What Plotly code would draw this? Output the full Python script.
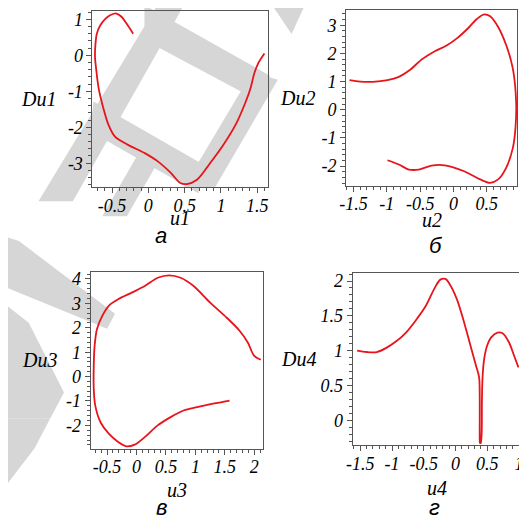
import plotly.graph_objects as go

# ---------------- data ----------------
u1 = [-0.21, -0.30, -0.37, -0.44, -0.52, -0.59, -0.66, -0.71, -0.73, -0.735, -0.72, -0.685,
      -0.62, -0.55, -0.46, -0.28, -0.05, 0.13, 0.31, 0.44, 0.53, 0.67, 0.85, 1.03, 1.21,
      1.34, 1.41, 1.46, 1.52, 1.60]
Du1 = [0.60, 0.88, 1.07, 1.16, 1.12, 1.02, 0.84, 0.60, 0.28, -0.05, -0.37, -0.92,
       -1.47, -1.93, -2.26, -2.49, -2.72, -2.95, -3.27, -3.55, -3.58, -3.46, -3.00, -2.50, -1.90,
       -1.30, -0.90, -0.50, -0.20, 0.05]

u2 = [-1.56, -1.40, -1.21, -0.99, -0.82, -0.65, -0.48, -0.28, -0.11, 0.06, 0.23, 0.35, 0.45,
      0.55, 0.67, 0.79, 0.89, 0.94, 0.93, 0.89, 0.79, 0.67, 0.55, 0.40, 0.16, -0.13, -0.33,
      -0.52, -0.67, -0.82, -0.99]
Du2 = [1.05, 1.00, 0.99, 1.05, 1.17, 1.42, 1.78, 2.08, 2.27, 2.55, 2.92, 3.22, 3.38,
       3.32, 2.94, 2.30, 1.47, 0.29, -0.65, -1.36, -2.06, -2.47, -2.59, -2.47, -2.18, -1.97, -1.98,
       -2.12, -2.12, -1.94, -1.79]

u3 = [2.11, 1.995, 1.89, 1.75, 1.53, 1.25, 0.97, 0.75, 0.555, 0.36, 0.14, -0.08, -0.31, -0.47,
      -0.58, -0.67, -0.71, -0.725, -0.725, -0.70, -0.61, -0.47, -0.31, -0.17, -0.03, 0.14, 0.36,
      0.58, 0.80, 1.03, 1.30, 1.58]
Du3 = [0.69, 0.86, 1.40, 1.88, 2.42, 3.03, 3.71, 4.05, 4.15, 4.05, 3.71, 3.44, 3.17, 2.90,
       2.49, 1.95, 1.27, 0.45, -0.50, -1.18, -1.87, -2.34, -2.68, -2.86, -2.79, -2.48, -2.00,
       -1.66, -1.39, -1.25, -1.11, -0.98]

u4 = [-1.55, -1.40, -1.24, -1.09, -0.94, -0.78, -0.63, -0.47, -0.34, -0.24, -0.16, -0.09, 0.02,
      0.12, 0.22, 0.32, 0.37, 0.38, 0.38, 0.385, 0.395, 0.41, 0.415, 0.425, 0.45, 0.50, 0.56,
      0.66, 0.74, 0.84, 0.92, 0.99]
Du4 = [1.00, 0.98, 0.98, 1.04, 1.13, 1.26, 1.43, 1.64, 1.88, 2.02, 2.03, 1.95, 1.74,
       1.45, 1.12, 0.79, 0.62, 0.30, -0.20, -0.33, -0.33, -0.20, 0.30, 0.62, 0.88, 1.08, 1.19,
       1.26, 1.25, 1.12, 0.93, 0.76]

x_ticks = [
    [-0.5, 0, 0.5, 1, 1.5],
    [-1.5, -1, -0.5, 0, 0.5],
    [-0.5, 0, 0.5, 1, 1.5, 2],
    [-1.5, -1, -0.5, 0, 0.5, 1],
]
x_ticktext = [
    ["-0.5", "0", "0.5", "1", "1.5"],
    ["-1.5", "-1", "-0.5", "0", "0.5"],
    ["-0.5", "0", "0.5", "1", "1.5", "2"],
    ["-1.5", "-1", "-0.5", "0", "0.5", "1"],
]
y_ticks = [
    [-3, -2, -1, 0, 1],
    [-2, -1, 0, 1, 2, 3],
    [-3, -2, -1, 0, 1, 2, 3, 4],
    [0, 0.5, 1, 1.5, 2],
]
y_ticktext = [
    ["-3", "-2", "-1", "0", "1"],
    ["-2", "-1", "0", "1", "2", "3"],
    ["-3", "-2", "-1", "0", "1", "2", "3", "4"],
    ["0", "0.5", "1", "1.5", "2"],
]
x_titles = ["u1", "u2", "u3", "u4"]
y_titles = ["Du1", "Du2", "Du3", "Du4"]
captions = ["а", "б", "в", "г"]

# ---------------- layout geometry (pixels of the 527x519 page) ----------------
OFF = 8                       # page body margin of the browser
W, H = 527 - OFF, 519 - OFF   # figure size so that it ends at the window edge
boxes = [  # left, right, top, bottom
    (87, 265.7, 9, 186),
    (345.7, 520, 8.3, 184.3),
    (85, 261, 270.7, 448.3),
    (352.3, 523.3, 271.7, 445),
]
x_ranges = [[-0.77, 1.645], [-1.61, 0.955], [-0.78, 2.15], [-1.62, 1.02]]
y_ranges = [[-3.67, 1.23], [-2.69, 3.53], [-2.95, 4.30], [-0.36, 2.12]]
x_minor = [0.1, 0.1, 0.1, 0.1]
y_minor = [0.2, 0.2, 0.2, 0.1]
caption_pos = [(157, 234), (437, 244), (157, 507), (436, 507)]
ytitle_x = [32, 296, 33, 297]
xtitle_y = [217, 219, 490, 488]

# light-grey background watermark (page pixels)
watermark = [
    [(155, 0), (182, 0), (67, 200), (32, 200)],
    [(140, 3), (268, 74), (258, 100), (140, 38)],
    [(180, 186), (212, 186), (276, 78), (250, 70)],
    [(88, 100), (200, 163), (195, 192), (85, 130)],
    [(135, 150), (160, 150), (122, 215), (97, 215)],
    [(268, 0), (305, 0), (290, 32)],
    [(0, 236), (12, 240), (110, 313), (102, 328), (0, 287)],
    [(0, 305), (22, 322), (58, 392), (44, 418), (0, 418)],
    [(0, 418), (44, 418), (28, 448), (0, 484)],
]


def px(x):
    return (x - OFF) / W


def py(y):
    return 1 - (y - OFF) / H


series = [(u1, Du1), (u2, Du2), (u3, Du3), (u4, Du4)]

fig = go.Figure()
for poly in watermark:
    path = "M " + " L ".join(f"{px(a):.4f},{py(b):.4f}" for a, b in poly) + " Z"
    fig.add_shape(type="path", path=path, xref="paper", yref="paper",
                  fillcolor="#d6d6d6", line=dict(width=0), layer="below")

tick_font = dict(family="Liberation Serif", size=18, color="black", style="italic")
title_font = dict(family="Liberation Serif", size=20, color="black", style="italic")

for i, (xs, ys) in enumerate(series):
    n = "" if i == 0 else str(i + 1)
    fig.add_trace(go.Scatter(
        x=xs, y=ys, mode="lines", xaxis="x" + n, yaxis="y" + n,
        line=dict(color="#e8141c", width=1.8, shape="spline", smoothing=0.9),
        showlegend=False, hoverinfo="skip"))
    l, r, t, b = boxes[i]
    common = dict(showline=True, linecolor="#555555", linewidth=1, mirror=True,
                  showgrid=False, zeroline=False, ticks="outside", ticklen=5,
                  tickcolor="#555555", tickfont=tick_font, tickmode="array")
    fig.update_layout(**{
        "xaxis" + n: dict(common, domain=[px(l), px(r)], range=x_ranges[i],
                          anchor="y" + n, tickvals=x_ticks[i], ticktext=x_ticktext[i],
                          ticklabelstandoff=-3,
                          minor=dict(dtick=x_minor[i], tick0=0, ticks="outside", ticklen=3,
                                     tickcolor="#555555")),
        "yaxis" + n: dict(common, domain=[py(b), py(t)], range=y_ranges[i],
                          anchor="x" + n, tickvals=y_ticks[i], ticktext=y_ticktext[i],
                          minor=dict(dtick=y_minor[i], tick0=0, ticks="outside", ticklen=3,
                                     tickcolor="#555555")),
    })
    fig.add_annotation(x=px(ytitle_x[i]), y=py((t + b) / 2), xref="paper", yref="paper",
                       text=y_titles[i], showarrow=False, font=title_font,
                       xanchor="center", yanchor="middle")
    fig.add_annotation(x=px((l + r) / 2), y=py(xtitle_y[i]), xref="paper", yref="paper",
                       text=x_titles[i], showarrow=False, font=title_font,
                       xanchor="center", yanchor="middle")
    cx, cy = caption_pos[i]
    fig.add_annotation(x=px(cx), y=py(cy), xref="paper", yref="paper",
                       text=captions[i], showarrow=False,
                       font=dict(family="Liberation Sans", size=22, color="black", style="italic"),
                       xanchor="center", yanchor="middle")

fig.update_layout(width=W, height=H, margin=dict(l=0, r=0, t=0, b=0),
                  paper_bgcolor="white", plot_bgcolor="rgba(0,0,0,0)")
fig.write_html("out.html")
